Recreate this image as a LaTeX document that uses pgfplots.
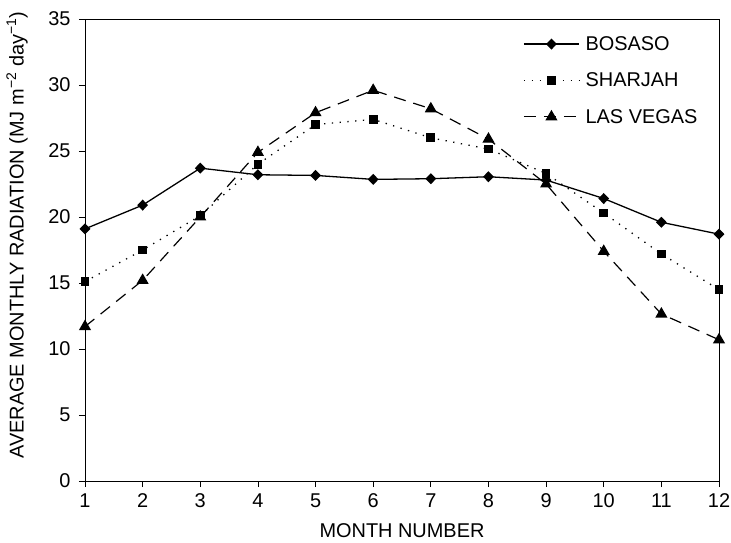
\documentclass[border=0pt]{standalone}
\usepackage{pgfplots}
\pgfplotsset{compat=1.18}
\usepackage{fontspec}
\setmainfont{Liberation Sans}
\newcommand{\chartfont}{\fontsize{20}{24}\selectfont}
\begin{document}
\begin{tikzpicture}
\begin{axis}[
  name=main,
  scale only axis,
  width=634bp, height=462bp,
  xmin=1, xmax=12, ymin=0, ymax=35,
  xtick={1,...,12}, ytick={0,5,...,35},
  tick align=outside, xtick pos=left, ytick pos=left,
  major tick length=6bp,
  axis line style={line width=1pt},
  every tick/.style={black, line width=0.8pt},
  tick label style={font=\chartfont},
  yticklabel style={xshift=-5bp},
  xticklabel style={yshift=-3bp},
  /pgf/number format/assume math mode=true,
  every axis x label/.style={at={(axis description cs:0.5,-0.108)}, anchor=center, font=\chartfont},
  every axis y label/.style={at={(axis description cs:-0.107,0.532)}, anchor=center, rotate=90, font=\chartfont},
  xlabel={MONTH NUMBER},
  ylabel={AVERAGE MONTHLY RADIATION (MJ m\textsuperscript{−2} day\textsuperscript{−1})},
  legend style={draw=none, fill=none, at={(axis description cs:0.691,0.965)}, anchor=north west,
    font=\chartfont, inner sep=0pt, row sep=19bp, column sep=5bp,
    nodes={inner sep=1pt}},
  legend cell align=left,
  legend image code/.code={
    \draw[mark repeat=2, mark phase=2] plot coordinates {(0bp,0bp) (27.5bp,0bp) (55bp,0bp)};},
]
% Bosaso: solid line, diamonds
\addplot[black, line width=1.3pt, mark=diamond*, mark size=4.6bp, mark options={xscale=1.3}] coordinates {
 (1,19.1) (2,20.9) (3,23.7) (4,23.2) (5,23.15) (6,22.85)
 (7,22.9) (8,23.05) (9,22.8) (10,21.4) (11,19.6) (12,18.7)};
\addlegendentry{BOSASO}
% Sharjah: dotted line, squares
\addplot[black, line width=1.3pt, dash pattern=on 1.3bp off 6.5bp, mark=square*, mark size=3.7bp, mark options={solid}] coordinates {
 (1,15.1) (2,17.5) (3,20.1) (4,24.0) (5,27.0) (6,27.4)
 (7,26.0) (8,25.15) (9,23.3) (10,20.3) (11,17.2) (12,14.5)};
\addlegendentry{SHARJAH}
% Las Vegas: dashed line, triangles
\addplot[black, line width=1.2pt, dash pattern=on 12bp off 8bp, mark=triangle*, mark size=5.8bp, mark options={solid}] coordinates {
 (1,11.7) (2,15.2) (3,20.0) (4,24.9) (5,27.9) (6,29.6)
 (7,28.2) (8,25.9) (9,22.5) (10,17.4) (11,12.65) (12,10.7)};
\addlegendentry{LAS VEGAS}
\end{axis}
\pgfresetboundingbox
\path ([xshift=-85bp,yshift=-62bp]main.south west) rectangle ([xshift=12bp,yshift=19bp]main.north east);
\end{tikzpicture}
\end{document}
